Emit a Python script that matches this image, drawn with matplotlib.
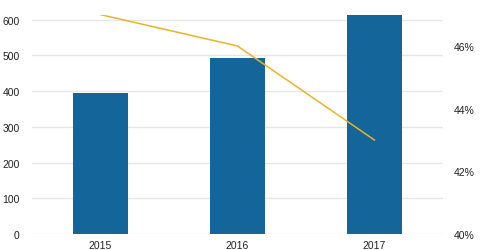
import matplotlib.pyplot as plt

years = ["2015", "2016", "2017"]
revenue = [394, 492, 613]
margin = [47.0, 46.0, 43.0]
pct_ticks = [40, 42, 44, 46]

plt.rcParams['font.family'] = ['Liberation Sans', 'DejaVu Sans']

fig = plt.figure(figsize=(4.8, 2.51), dpi=100)
ax = fig.add_axes([0.0667, 0.0637, 0.856, 0.874])
x = range(len(years))
ax.bar(x, revenue, width=0.4, color="#14659a", zorder=2)
ax.set_xlim(-0.5, 2.5)
ax.set_ylim(0, 614)
ax.set_yticks([0, 100, 200, 300, 400, 500, 600])
ax.set_xticks(list(x))
ax.set_xticklabels(years)
ax.grid(True, axis="y", color="#e6e6e6", linewidth=1, zorder=0)
for s in ax.spines.values():
    s.set_visible(False)
ax.tick_params(length=0, labelsize=7.5, colors="#222222")
ax.tick_params(axis="y", pad=9)
ax.tick_params(axis="x", pad=4)

ax2 = ax.twinx()
ax2.plot(x, margin, color="#e8b428", linewidth=1.1, zorder=3)
ax2.set_ylim(40, 47)
ax2.set_yticks(pct_ticks)
ax2.set_yticklabels([f"{v}%" for v in pct_ticks])
for s in ax2.spines.values():
    s.set_visible(False)
ax2.tick_params(length=0, labelsize=7.5, colors="#222222", pad=8)

fig.savefig("out.png", dpi=100)
